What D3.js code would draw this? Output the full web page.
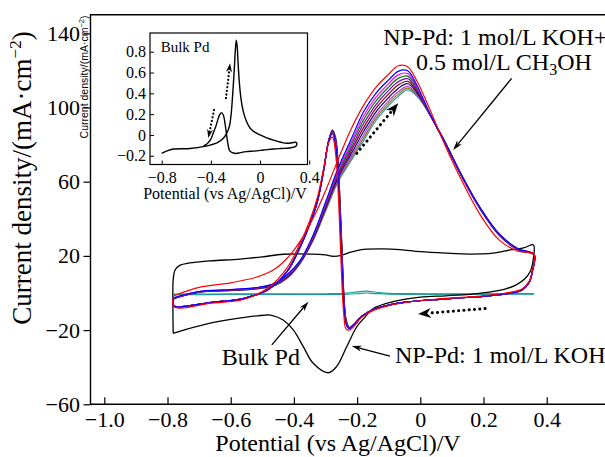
<!DOCTYPE html>
<html>
<head>
<meta charset="utf-8">
<script src="https://d3js.org/d3.v7.min.js"></script>
<title>NP-Pd CV</title>
<style>
body {margin:0; background:#fff;}
text {font-family:"Liberation Serif","Times New Roman",serif; fill:#000;}
</style>
</head>
<body>
<div id="chart"></div>
<script>
// ---- data ----
// main axis ticks
var xTicks = [-1.0, -0.8, -0.6, -0.4, -0.2, 0, 0.2, 0.4];
var yTicks = [-60, -20, 20, 60, 100, 140];

// NP-Pd in 1 mol/L KOH + 0.5 mol/L CH3OH, successive cycles (first = red)
var cycleColors = ["#ff0000", "#0000ff", "#ff00ff", "#008000", "#7a00c0",
                   "#8b0000", "#0000a0", "#c040c0", "#808000", "#2f8fcf"];

// anodic (forward) scan potentials, shared by all cycles
var fwdV = [-0.78, -0.70, -0.60, -0.52, -0.46, -0.42, -0.38, -0.34, -0.30, -0.26, -0.22, -0.18,
            -0.14, -0.10, -0.07, -0.04, -0.01, 0.03, 0.08, 0.13, 0.19, 0.25, 0.31, 0.36];
var fwdI = [
  [-1.5, 3, 5.5, 8.5, 13, 19, 28, 40, 55, 72, 88, 101, 111, 118, 122.5, 122, 114, 99, 79, 61, 42, 28.5, 22.5, 21],
  [-2.6, 0.8, 1.8, 2.9, 5.2, 10.1, 17.6, 30.9, 48.9, 67.4, 82.5, 97.6, 107.8, 114.9, 119.5, 119.8, 111.7, 96.8, 80.8, 63.8, 45.8, 31.8, 23.8, 20.9],
  [-2.7, 0.8, 1.7, 2.8, 5.1, 9.8, 17.4, 30.5, 48.2, 66.3, 80.8, 95.3, 105.6, 112.9, 117.6, 118.3, 110.9, 96.7, 80.7, 63.7, 45.7, 31.7, 23.7, 20.9],
  [-2.7, 0.7, 1.7, 2.7, 4.9, 9.5, 17.2, 30.1, 47.5, 65.3, 79.3, 93.2, 103.6, 111, 115.7, 116.9, 110.1, 96.6, 80.6, 63.6, 45.6, 31.6, 23.6, 20.8],
  [-2.8, 0.6, 1.6, 2.6, 4.7, 9.2, 17, 29.7, 46.9, 64.3, 77.7, 91.1, 101.6, 109.2, 113.9, 115.5, 109.4, 96.5, 80.5, 63.5, 45.5, 31.5, 23.5, 20.7],
  [-2.8, 0.6, 1.5, 2.5, 4.6, 8.9, 16.7, 29.3, 46.2, 63.3, 76.2, 89, 99.7, 107.3, 112.1, 114.1, 108.6, 96.4, 80.4, 63.4, 45.4, 31.4, 23.4, 20.7],
  [-2.9, 0.5, 1.5, 2.4, 4.4, 8.7, 16.5, 28.9, 45.6, 62.3, 74.6, 86.9, 97.7, 105.4, 110.3, 112.8, 107.8, 96.3, 80.3, 63.3, 45.3, 31.3, 23.3, 20.6],
  [-2.9, 0.5, 1.4, 2.3, 4.2, 8.4, 16.3, 28.5, 44.9, 61.4, 73.1, 84.9, 95.7, 103.6, 108.5, 111.4, 107.1, 96.2, 80.2, 63.2, 45.2, 31.2, 23.2, 20.6],
  [-3, 0.4, 1.3, 2.2, 4.1, 8.2, 16.1, 28.3, 44.4, 60.6, 72, 83.3, 94.3, 102.2, 107.2, 110.4, 106.5, 96.1, 80.1, 63.1, 45.1, 31.1, 23.1, 20.5],
  [-3, 0.4, 1.3, 2.2, 4, 8, 16, 28, 44, 60, 71, 82, 93, 101, 106, 109.5, 106, 96, 80, 63, 45, 31, 23, 20.5]
];

// cathodic (reverse) scan potentials, shared by all cycles
var revV = [0.355, 0.345, 0.32, 0.27, 0.20, 0.12, 0.04, -0.04, -0.10, -0.15, -0.185, -0.21, -0.225, -0.235, -0.242,
            -0.248, -0.254, -0.26, -0.268, -0.278, -0.29, -0.305, -0.325, -0.35, -0.38, -0.42, -0.48, -0.56, -0.66, -0.78];
var revI = [
  [12.5, 6.5, 2, 0, -1.5, -2.5, -3.5, -5, -6.8, -9.5, -13, -18, -20, -19.5, -12, 5, 30, 55, 75, 84, 81, 68, 52, 39, 27, 14, 3, -3.5, -5.5, -7.5],
  [12, 6, 1.5, -0.5, -1.8, -2.7, -3.6, -4.8, -6.5, -9, -12.5, -17, -19.2, -16.7, -5.9, 15.2, 40.2, 62.6, 79.6, 86, 82, 67, 50, 37, 25, 12, 2, -3, -5, -7],
  [12, 6, 1.5, -0.5, -1.8, -2.7, -3.6, -4.8, -6.5, -9, -12.5, -17, -19.1, -16.3, -5, 16.6, 41.6, 63.7, 80.2, 86.3, 82, 67, 50, 37, 25, 12, 2, -3, -5, -7],
  [12, 6, 1.5, -0.5, -1.8, -2.7, -3.6, -4.8, -6.5, -9, -12.5, -17, -19, -15.9, -4.2, 18, 43, 64.7, 80.8, 86.6, 82, 67, 50, 37, 25, 12, 2, -3, -5, -7],
  [12, 6, 1.5, -0.5, -1.8, -2.7, -3.6, -4.8, -6.5, -9, -12.5, -17, -18.9, -15.6, -3.5, 19.2, 44.2, 65.6, 81.4, 86.8, 82, 67, 50, 37, 25, 12, 2, -3, -5, -7],
  [12, 6, 1.5, -0.5, -1.8, -2.7, -3.6, -4.8, -6.5, -9, -12.5, -17, -18.8, -15.2, -2.6, 20.6, 45.6, 66.7, 82, 87.1, 82, 67, 50, 37, 25, 12, 2, -3, -5, -7],
  [12, 6, 1.5, -0.5, -1.8, -2.7, -3.6, -4.8, -6.5, -9, -12.5, -17, -18.7, -14.9, -1.9, 21.8, 46.8, 67.6, 82.6, 87.4, 82, 67, 50, 37, 25, 12, 2, -3, -5, -7],
  [12, 6, 1.5, -0.5, -1.8, -2.7, -3.6, -4.8, -6.5, -9, -12.5, -17, -18.6, -14.5, -1.1, 23.2, 48.2, 68.6, 83.2, 87.6, 82, 67, 50, 37, 25, 12, 2, -3, -5, -7],
  [12, 6, 1.5, -0.5, -1.8, -2.7, -3.6, -4.8, -6.5, -9, -12.5, -17, -18.6, -14.2, -0.5, 24.2, 49.2, 69.4, 83.6, 87.8, 82, 67, 50, 37, 25, 12, 2, -3, -5, -7],
  [12, 6, 1.5, -0.5, -1.8, -2.7, -3.6, -4.8, -6.5, -9, -12.5, -17, -18.5, -14, 0, 25, 50, 70, 84, 88, 82, 67, 50, 37, 25, 12, 2, -3, -5, -7]
];

// NP-Pd in 1 mol/L KOH (black loop)
var kohV = [-0.782, -0.783, -0.782, -0.776, -0.76, -0.73, -0.665, -0.571, -0.50, -0.434, -0.346, -0.30, -0.276, -0.25,
            -0.22, -0.19, -0.169, -0.12, -0.064, 0.0, 0.08, 0.157, 0.23, 0.284, 0.33, 0.358, 0.357, 0.347, 0.33,
            0.305, 0.268, 0.21, 0.157, 0.08, 0.0, -0.086, -0.15, -0.175, -0.201, -0.233, -0.265, -0.291, -0.339,
            -0.370, -0.402, -0.434, -0.47, -0.49, -0.55, -0.665, -0.782];
var kohI = [-21.7, -5, 7, 12.4, 15, 16.2, 17.3, 18.3, 19.5, 20.9, 21.0, 20.5, 19.8, 20.3,
            22, 23.2, 23.6, 23.8, 23.4, 22.3, 21.5, 21.0, 21.5, 23.2, 24.5, 25.9, 17.8, 11.3, 7.5,
            4.5, 2.1, 0.3, -0.7, -1.5, -2.2, -4.7, -8.5, -13, -18.2, -29, -39.7, -43, -37.9,
            -29, -19.9, -14.6, -12, -11.9, -13, -16.3, -21.7];

// bulk Pd in 1 mol/L KOH (teal, almost flat)
var bulkV = [-0.78, -0.6, -0.4, -0.3, -0.24, -0.2, -0.17, -0.14, -0.1, 0.0, 0.2, 0.36];
var bulkFwdI = [-0.6, -0.5, -0.4, -0.4, -0.2, 0.6, 1.0, 0.4, -0.2, -0.4, -0.4, -0.3];
var bulkRevI = [-0.9, -0.8, -0.8, -0.8, -0.7, -0.4, 0.0, -0.3, -0.6, -0.7, -0.7, -0.6];

// inset: bulk Pd in KOH + CH3OH
var insetXTicks = [-0.8, -0.4, 0, 0.4];
var insetYTicks = [-0.2, 0, 0.2, 0.4, 0.6, 0.8];
var insetV = [-0.80, -0.75, -0.70, -0.57, -0.45, -0.40, -0.35, -0.30, -0.27, -0.25,
              -0.235, -0.222, -0.21, -0.20, -0.193, -0.186, -0.178, -0.168, -0.155, -0.135,
              -0.11, -0.08, -0.04, 0, 0.05, 0.11, 0.17, 0.22, 0.26, 0.29, 0.30,
              0.29, 0.24, 0.17, 0.11, 0.03, -0.05, -0.113, -0.16, -0.194, -0.225,
              -0.248, -0.262, -0.272, -0.285, -0.298, -0.315, -0.33, -0.345, -0.36, -0.38,
              -0.40, -0.43, -0.46];
var insetI = [-0.176, -0.15, -0.135, -0.13, -0.11, -0.095, -0.075, -0.035, 0.02, 0.08,
              0.2, 0.4, 0.62, 0.83, 0.91, 0.85, 0.68, 0.5, 0.35, 0.22,
              0.13, 0.065, 0.025, 0, -0.025, -0.05, -0.07, -0.08, -0.075, -0.07, -0.085,
              -0.11, -0.125, -0.13, -0.135, -0.145, -0.155, -0.16, -0.17, -0.178, -0.17,
              -0.15, -0.08, 0.0, 0.11, 0.19, 0.215, 0.19, 0.14, 0.08, 0.02,
              -0.04, -0.085, -0.105];

// ---- drawing ----
var W = 605, H = 457;
var svg = d3.select("#chart").append("svg")
    .attr("width", W)
    .attr("height", H);

var x = d3.scaleLinear().domain([-1.0437, 0.6]).range([90.5, 90.5 + 1.6437 * 316]);
var y = d3.scaleLinear().domain([-60, 150]).range([404.3, 14.75]);

var line = d3.line()
    .x(function(d) { return x(d[0]); })
    .y(function(d) { return y(d[1]); })
    .curve(d3.curveCatmullRom.alpha(0.5));

function zip(a, b) { return a.map(function(v, i) { return [v, b[i]]; }); }

// frame (right side is outside the picture)
svg.append("path")
    .attr("d", "M" + (W + 5) + "," + y(150) + "H" + x(-1.0437) + "V" + y(-60) + "H" + (W + 5))
    .attr("fill", "none").attr("stroke", "#000").attr("stroke-width", 1.4);

// y axis, ticks outward
var yaxis = d3.axisLeft(y).tickValues(yTicks).tickSize(7).tickPadding(3.5).tickFormat(d3.format("d"));
var gy = svg.append("g").attr("transform", "translate(" + x(-1.0437) + ",0)").call(yaxis);
gy.select(".domain").remove();
gy.selectAll("line").attr("stroke-width", 1.2);
gy.selectAll("text").attr("font-size", 22).attr("font-family", "Liberation Serif");

// x axis, ticks inward
var xaxis = d3.axisBottom(x).tickValues(xTicks).tickSizeInner(-7).tickSizeOuter(0).tickPadding(7)
    .tickFormat(function(d) { return d === 0 ? "0" : d3.format(".1f")(d); });
var gx = svg.append("g").attr("transform", "translate(0," + y(-60) + ")").call(xaxis);
gx.select(".domain").remove();
gx.selectAll("line").attr("stroke-width", 1.2);
gx.selectAll("text").attr("font-size", 22).attr("font-family", "Liberation Serif");

// axis titles
svg.append("text")
    .attr("x", 338).attr("y", 451)
    .attr("text-anchor", "middle").attr("font-size", 24)
    .text("Potential (vs Ag/AgCl)/V");

var yt = svg.append("text")
    .attr("transform", "translate(31,178) rotate(-90)")
    .attr("text-anchor", "middle").attr("font-size", 27);
yt.append("tspan").text("Current density/(mA\u00b7cm");
yt.append("tspan").attr("font-size", 17).attr("dy", -10).text("\u22122");
yt.append("tspan").attr("dy", 10).text(")");

// curves
var plot = svg.append("g");

// bulk Pd in KOH
plot.append("path").attr("d", line(zip(bulkV, bulkRevI)))
    .attr("fill", "none").attr("stroke", "#1a9c9c").attr("stroke-width", 1.2);
plot.append("path").attr("d", line(zip(bulkV, bulkFwdI)))
    .attr("fill", "none").attr("stroke", "#1a9c9c").attr("stroke-width", 1.2);

// NP-Pd in KOH
plot.append("path").attr("d", line(zip(kohV, kohI)))
    .attr("fill", "none").attr("stroke", "#000").attr("stroke-width", 1.3);

// NP-Pd methanol cycles, last cycle first so the red one sits on top
for (var k = cycleColors.length - 1; k >= 0; k--) {
  var pts = zip(fwdV, fwdI[k]).concat(zip(revV, revI[k]));
  pts.push([fwdV[0], fwdI[k][0]]);
  plot.append("path").attr("d", line(pts))
      .attr("fill", "none").attr("stroke", cycleColors[k]).attr("stroke-width", 1.2);
}

// ---- annotations ----
function head(g, x1, y1, x2, y2, len, wid) {
  var a = Math.atan2(y2 - y1, x2 - x1);
  var c = Math.cos(a), s = Math.sin(a);
  var bx = x2 - len * c, by = y2 - len * s;
  var nx = x2 - len * 0.7 * c, ny = y2 - len * 0.7 * s;
  g.append("path")
      .attr("d", "M" + x2 + "," + y2 +
                 "L" + (bx - wid / 2 * s) + "," + (by + wid / 2 * c) +
                 "L" + nx + "," + ny +
                 "L" + (bx + wid / 2 * s) + "," + (by - wid / 2 * c) + "Z")
      .attr("fill", "#000");
}
function arrow(g, p, q, dotted) {
  var x1 = x(p[0]), y1 = y(p[1]), x2 = x(q[0]), y2 = y(q[1]);
  var a = Math.atan2(y2 - y1, x2 - x1);
  var back = dotted ? 9 : 5;
  g.append("line")
      .attr("x1", x1).attr("y1", y1)
      .attr("x2", x2 - back * Math.cos(a)).attr("y2", y2 - back * Math.sin(a))
      .attr("stroke", "#000")
      .attr("stroke-width", dotted ? 3 : 1.3)
      .attr("stroke-linecap", dotted ? "round" : "butt")
      .attr("stroke-dasharray", dotted ? "0.1,5.2" : null);
  if (dotted) head(g, x1, y1, x2, y2, 13, 10);
  else head(g, x1, y1, x2, y2, 10, 6);
}
var ann = svg.append("g");

var t1 = ann.append("text").attr("font-size", 24);
t1.append("tspan").attr("x", x(-0.117)).attr("y", y(133.7)).text("NP-Pd: 1 mol/L KOH+");
var t2 = ann.append("text").attr("font-size", 24).attr("x", x(-0.0136)).attr("y", y(120.2));
t2.append("tspan").text("0.5 mol/L CH");
t2.append("tspan").attr("font-size", 16).attr("dy", 5).text("3");
t2.append("tspan").attr("dy", -5).text("OH");
arrow(ann, [0.289, 115.7], [0.104, 77.1], false);

arrow(ann, [-0.201, 75.3], [-0.07, 102.3], true);
arrow(ann, [0.205, -8.4], [-0.007, -11.3], true);

ann.append("text").attr("font-size", 24).attr("x", x(-0.628)).attr("y", y(-38.8)).text("Bulk Pd");
arrow(ann, [-0.47, -28], [-0.354, -4.7], false);

ann.append("text").attr("font-size", 24).attr("x", x(-0.08)).attr("y", y(-37.9)).text("NP-Pd: 1 mol/L KOH");
arrow(ann, [-0.096, -34], [-0.217, -28.6], false);

// ---- inset ----
var xi = d3.scaleLinear().domain([-0.895, 0.386]).range([150, 307.5]);
var yi = d3.scaleLinear().domain([-0.284, 0.98]).range([164.5, 33]);
var ins = svg.append("g");
ins.append("rect")
    .attr("x", 150).attr("y", 33).attr("width", 157.5).attr("height", 131.5)
    .attr("fill", "#fff").attr("stroke", "#000").attr("stroke-width", 1.2);

var gyi = ins.append("g").attr("transform", "translate(150,0)")
    .call(d3.axisLeft(yi).tickValues(insetYTicks).tickSizeInner(-4).tickSizeOuter(0).tickPadding(4)
      .tickFormat(function(d) { return d === 0 ? "0" : d3.format(".1f")(d); }));
gyi.select(".domain").remove();
gyi.selectAll("text").attr("font-size", 16).attr("font-family", "Liberation Serif");

var gxi = ins.append("g").attr("transform", "translate(0,164.5)")
    .call(d3.axisBottom(xi).tickValues(insetXTicks).tickSizeInner(-4).tickSizeOuter(0).tickPadding(7)
      .tickFormat(function(d) { return d === 0 ? "0" : d3.format(".1f")(d); }));
gxi.select(".domain").remove();
gxi.selectAll("text").attr("font-size", 16).attr("font-family", "Liberation Serif");

ins.append("text").attr("x", 225).attr("y", 199).attr("text-anchor", "middle")
    .attr("font-size", 16).text("Potential (vs Ag/AgCl)/V");
var yti = ins.append("text")
    .attr("transform", "translate(88,77) rotate(-90)")
    .attr("text-anchor", "middle").attr("font-size", 10.5)
    .style("font-family", "'Liberation Sans', Arial, sans-serif");
yti.append("tspan").text("Current density/(mA\u00b7cm");
yti.append("tspan").attr("font-size", 7.5).attr("dy", -4).text("\u22122");
yti.append("tspan").attr("dy", 4).text(")");

var lineI = d3.line()
    .x(function(d) { return xi(d[0]); })
    .y(function(d) { return yi(d[1]); })
    .curve(d3.curveCatmullRom.alpha(0.5));
ins.append("path").attr("d", lineI(zip(insetV, insetI)))
    .attr("fill", "none").attr("stroke", "#000").attr("stroke-width", 1.4);

ins.append("text").attr("x", xi(-0.808)).attr("y", yi(0.794)).attr("font-size", 15).text("Bulk Pd");

function arrowI(p, q) {
  var x1 = xi(p[0]), y1 = yi(p[1]), x2 = xi(q[0]), y2 = yi(q[1]);
  var a = Math.atan2(y2 - y1, x2 - x1);
  ins.append("line")
      .attr("x1", x1).attr("y1", y1)
      .attr("x2", x2 - 6 * Math.cos(a)).attr("y2", y2 - 6 * Math.sin(a))
      .attr("stroke", "#000").attr("stroke-width", 2.2)
      .attr("stroke-linecap", "round").attr("stroke-dasharray", "0.1,3.6");
  head(ins, x1, y1, x2, y2, 9, 6);
}
arrowI([-0.277, 0.353], [-0.244, 0.69]);
arrowI([-0.374, 0.24], [-0.421, -0.03]);
</script>
</body>
</html>
